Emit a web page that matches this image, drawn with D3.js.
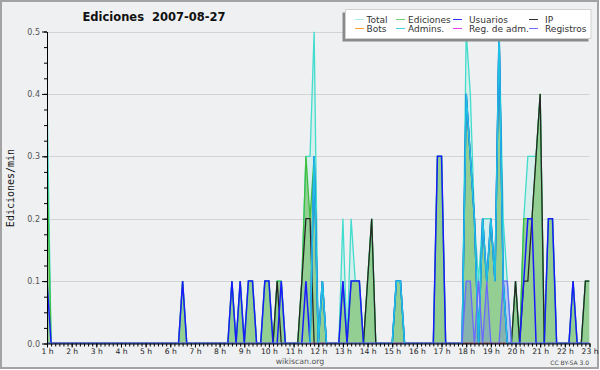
<!DOCTYPE html>
<html><head><meta charset="utf-8">
<script src="https://cdn.jsdelivr.net/npm/d3@7"></script>
<style>body{margin:0;background:#fff}svg{display:block}</style>
</head><body>
<svg id="c" width="600" height="370"></svg>
<script>
// ---- data: 10-minute steps from 1 h to 23 h (one row per hour) ----
const hourLabels = ["1 h","2 h","3 h","4 h","5 h","6 h","7 h","8 h","9 h","10 h","11 h","12 h","13 h","14 h","15 h","16 h","17 h","18 h","19 h","20 h","21 h","22 h","23 h"];
const yTickLabels = ["0.0","0.1","0.2","0.3","0.4","0.5"];
const seriesNames = ["Total","Ediciones","Usuarios","IP","Bots","Admins.","Reg. de adm.","Registros"];

const total = [
0.4,0,0,0,0,0,   0,0,0,0,0,0,   0,0,0,0,0,0,   0,0,0,0,0,0,   0,0,0,0,0,0,
0,0,0,0.1,0,0,   0,0,0,0,0,0,   0,0,0,0.1,0,0.1,   0,0.1,0.1,0,0,0.1,   0.1,0,0.1,0.1,0,0,
0,0,0.1,0.3,0.3,0.5,   0,0.1,0,0,0,0,   0.2,0,0.2,0.1,0.1,0,   0.1,0.2,0,0,0,0,   0,0.1,0.1,0,0,0,
0,0,0,0,0,0.3,   0.3,0,0,0,0,0,   0.5,0.4,0.2,0.1,0.2,0.2,   0.2,0.1,0.5,0.2,0.1,0,   0.1,0,0.2,0.3,0.3,0.3,
0.4,0,0.2,0.2,0,0,   0,0,0.1,0,0,0.1,   0.1];
const ediciones = [
0.3,0,0,0,0,0,   0,0,0,0,0,0,   0,0,0,0,0,0,   0,0,0,0,0,0,   0,0,0,0,0,0,
0,0,0,0.1,0,0,   0,0,0,0,0,0,   0,0,0,0.1,0,0.1,   0,0.1,0.1,0,0,0.1,   0.1,0,0.1,0.1,0,0,
0,0,0.1,0.3,0.2,0.3,   0,0.1,0,0,0,0,   0.1,0,0.1,0.1,0.1,0,   0.1,0.2,0,0,0,0,   0,0.1,0.1,0,0,0,
0,0,0,0,0,0.3,   0.3,0,0,0,0,0,   0.4,0.3,0.2,0,0.2,0.1,   0.2,0.1,0.5,0.1,0,0,   0.1,0,0.2,0.2,0.2,0.3,
0.4,0,0.2,0.2,0,0,   0,0,0.1,0,0,0.1,   0.1];
const usuarios = [
0.1,0,0,0,0,0,   0,0,0,0,0,0,   0,0,0,0,0,0,   0,0,0,0,0,0,   0,0,0,0,0,0,
0,0,0,0.1,0,0,   0,0,0,0,0,0,   0,0,0,0.1,0,0.1,   0,0.1,0.1,0,0,0.1,   0.1,0,0,0.1,0,0,
0,0,0,0.1,0,0.3,   0,0.1,0,0,0,0,   0.1,0,0.1,0.1,0.1,0,   0,0,0,0,0,0,   0,0.1,0.1,0,0,0,
0,0,0,0,0,0.3,   0.3,0,0,0,0,0,   0.4,0.3,0.2,0,0.2,0.1,   0.2,0.1,0.5,0.1,0,0,   0,0,0.1,0.2,0.2,0,
0,0,0.2,0.2,0,0,   0,0,0.1,0,0,0,   0];
const ip = [
0,0,0,0,0,0,   0,0,0,0,0,0,   0,0,0,0,0,0,   0,0,0,0,0,0,   0,0,0,0,0,0,
0,0,0,0,0,0,   0,0,0,0,0,0,   0,0,0,0,0,0,   0,0,0,0,0,0,   0,0,0.1,0,0,0,
0,0,0.1,0.2,0.2,0,   0,0,0,0,0,0,   0,0,0,0,0,0,   0.1,0.2,0,0,0,0,   0,0,0,0,0,0,
0,0,0,0,0,0,   0,0,0,0,0,0,   0,0,0,0,0,0,   0,0,0,0,0,0,   0.1,0,0.1,0.1,0.2,0.3,
0.4,0,0,0,0,0,   0,0,0,0,0,0.1,   0.1];
const bots = [
0,0,0,0,0,0,   0,0,0,0,0,0,   0,0,0,0,0,0,   0,0,0,0,0,0,   0,0,0,0,0,0,
0,0,0,0,0,0,   0,0,0,0,0,0,   0,0,0,0,0,0,   0,0,0,0,0,0,   0,0,0,0,0,0,
0,0,0,0,0,0,   0,0,0,0,0,0,   0,0,0,0,0,0,   0,0,0,0,0,0,   0,0,0,0,0,0,
0,0,0,0,0,0,   0,0,0,0,0,0,   0,0,0,0,0,0,   0,0,0,0,0,0,   0,0,0,0,0,0,
0,0,0,0,0,0,   0,0,0,0,0,0,   0];
const admins = [
0,0,0,0,0,0,   0,0,0,0,0,0,   0,0,0,0,0,0,   0,0,0,0,0,0,   0,0,0,0,0,0,
0,0,0,0,0,0,   0,0,0,0,0,0,   0,0,0,0,0,0,   0,0,0,0,0,0,   0,0,0,0,0,0,
0,0,0,0,0,0.3,   0,0.1,0,0,0,0,   0,0,0,0,0,0,   0,0,0,0,0,0,   0,0.1,0.1,0,0,0,
0,0,0,0,0,0,   0,0,0,0,0,0,   0.4,0.3,0.2,0,0.2,0.1,   0.2,0.1,0.5,0.1,0,0,   0,0,0,0,0,0,
0,0,0,0,0,0,   0,0,0,0,0,0,   0];
const regAdm = [
0,0,0,0,0,0,   0,0,0,0,0,0,   0,0,0,0,0,0,   0,0,0,0,0,0,   0,0,0,0,0,0,
0,0,0,0,0,0,   0,0,0,0,0,0,   0,0,0,0,0,0,   0,0,0,0,0,0,   0,0,0,0,0,0,
0,0,0,0,0,0,   0,0,0,0,0,0,   0,0,0,0,0,0,   0,0,0,0,0,0,   0,0,0,0,0,0,
0,0,0,0,0,0,   0,0,0,0,0,0,   0,0,0,0,0,0,   0,0,0,0,0,0,   0,0,0,0,0,0,
0,0,0,0,0,0,   0,0,0,0,0,0,   0];
const registros = [
0,0,0,0,0,0,   0,0,0,0,0,0,   0,0,0,0,0,0,   0,0,0,0,0,0,   0,0,0,0,0,0,
0,0,0,0,0,0,   0,0,0,0,0,0,   0,0,0,0,0,0,   0,0,0,0,0,0,   0,0,0,0,0,0,
0,0,0,0,0,0,   0,0,0,0,0,0,   0,0,0,0,0,0,   0,0,0,0,0,0,   0,0,0,0,0,0,
0,0,0,0,0,0,   0,0,0,0,0,0,   0.1,0.1,0,0.1,0,0.1,   0,0,0,0.1,0.1,0,   0,0,0,0,0,0,
0,0,0,0,0,0,   0,0,0,0,0,0,   0];

// time of each sample in hours
const times = total.map((d,i)=>1 + i/6);

// ---- drawing ----
const svg = d3.select("#c");
const font = "DejaVu Sans, sans-serif";
const x = d3.scaleLinear().domain([1,23]).range([47,589.5]);
const y = d3.scaleLinear().domain([0,0.5]).range([343.5,31.5]);

svg.append("rect").attr("x",1).attr("y",1).attr("width",597).attr("height",367)
  .attr("fill","#eff0f2").attr("stroke","#a3a3a3").attr("stroke-width",2);

// grid
svg.append("g").selectAll("line").data(yTickLabels.slice(1).map(Number)).join("line")
  .attr("x1",x(1)).attr("x2",x(23)).attr("y1",d=>Math.round(y(d))+0.5).attr("y2",d=>Math.round(y(d))+0.5)
  .attr("stroke","#d2d3d5").attr("stroke-width",1);

svg.append("clipPath").attr("id","pc").append("rect")
  .attr("x",x(1)).attr("y",y(0.5)).attr("width",x(23)-x(1)).attr("height",y(0)-y(0.5));
const plot = svg.append("g").attr("clip-path","url(#pc)");

const area = d3.area().x((d,i)=>x(times[i])).y0(y(0)).y1(d=>y(d));
const line = d3.line().x((d,i)=>x(times[i])).y(d=>y(d));

plot.append("path").attr("d",area(total)).attr("fill","rgba(64,224,208,0.14)");
plot.append("path").attr("d",area(ediciones)).attr("fill","#93cf93");
plot.append("path").attr("d",area(registros)).attr("fill","rgba(96,96,255,0.25)");

const lines = [
  [total,"#40dccc",1.3],
  [ediciones,"#3cbf3c",1.3],
  [bots,"#ffa030",1.3],
  [regAdm,"#e040e8",1.3],
  [ip,"#262626",1.3],
  [usuarios,"#1a1aff",1.5],
  [admins,"#1ec0e4",1.6],
  [registros,"#6a6aff",1.3]
];
lines.forEach(([data,col,w])=>{
  plot.append("path").attr("d",line(data)).attr("fill","none").attr("stroke",col)
    .attr("stroke-width",w).attr("stroke-linejoin","miter");
});

// x axis
const minorX = d3.range(0,133).map(i=>1+i/6);
svg.append("g").attr("transform",`translate(0,${y(0)})`)
  .call(d3.axisBottom(x).tickValues(minorX).tickSize(3).tickSizeOuter(0).tickFormat(""))
  .call(g=>{g.select(".domain").attr("stroke","#000");g.selectAll(".tick line").attr("stroke","#000");});
svg.append("g").attr("transform",`translate(0,${y(0)})`)
  .call(d3.axisBottom(x).tickValues(d3.range(1,24)).tickSize(4).tickSizeOuter(0).tickPadding(1)
    .tickFormat((d,i)=>hourLabels[i]))
  .call(g=>{g.select(".domain").remove();g.selectAll(".tick line").attr("stroke","#000");
    g.selectAll("text").attr("font-family",font).attr("font-size","7.6px").attr("fill","#222");});

// y axis
const minorY = d3.range(0,21).map(i=>i*0.025);
svg.append("g").attr("transform",`translate(${x(1)},0)`)
  .call(d3.axisLeft(y).tickValues(minorY).tickSize(3).tickSizeOuter(0).tickFormat(""))
  .call(g=>{g.select(".domain").attr("stroke","#000");g.selectAll(".tick line").attr("stroke","#000");});
svg.append("g").attr("transform",`translate(${x(1)},0)`)
  .call(d3.axisLeft(y).tickValues(yTickLabels.map(Number)).tickSize(5).tickSizeOuter(0).tickPadding(2)
    .tickFormat((d,i)=>yTickLabels[i]))
  .call(g=>{g.select(".domain").remove();g.selectAll(".tick line").attr("stroke","#000");
    g.selectAll("text").attr("font-family",font).attr("font-size","8px").attr("fill","#555");});

// titles
svg.append("text").attr("x",154).attr("y",21).attr("text-anchor","middle")
  .attr("font-family",font).attr("font-weight","bold").attr("font-size","11.5px").attr("fill","#111")
  .style("white-space","pre").text("Ediciones  2007-08-27");
svg.append("text").attr("transform","translate(14,188) rotate(-90)").attr("text-anchor","middle")
  .attr("font-family","DejaVu Sans Mono, monospace").attr("font-size","10px").attr("fill","#111")
  .text("Ediciones/min");
svg.append("text").attr("x",300).attr("y",363.5).attr("text-anchor","middle")
  .attr("font-family",font).attr("font-size","7.8px").attr("fill","#555").text("wikiscan.org");
svg.append("text").attr("x",589).attr("y",364.5).attr("text-anchor","end")
  .attr("font-family",font).attr("font-size","6px").attr("fill","#444").text("CC BY-SA 3.0");

// legend
const lg = svg.append("g");
lg.append("rect").attr("x",342.5).attr("y",12.5).attr("width",246).attr("height",29).attr("fill","#8a8a8a");
lg.append("rect").attr("x",345.5).attr("y",9.5).attr("width",245.5).attr("height",29)
  .attr("fill","#fff").attr("stroke","#d0d0d0").attr("stroke-width",1);
const legColors = ["#a8ecea","#70d070","#3030ff","#303030","#ffa030","#40d0e4","#e040e8","#7070ff"];
const colX = [355,396,453,529];
const textX = [366.5,408,469,545];
seriesNames.forEach((n,i)=>{
  const col = i%4, row = Math.floor(i/4);
  const ly = row===0 ? 19.5 : 28.5;
  lg.append("line").attr("x1",colX[col]).attr("x2",colX[col]+9).attr("y1",ly).attr("y2",ly)
    .attr("stroke",legColors[i]).attr("stroke-width",1);
  lg.append("text").attr("x",textX[col]).attr("y",ly+3.3).attr("font-family",font)
    .attr("font-size","9px").attr("fill","#333").text(n);
});
</script>
</body></html>
